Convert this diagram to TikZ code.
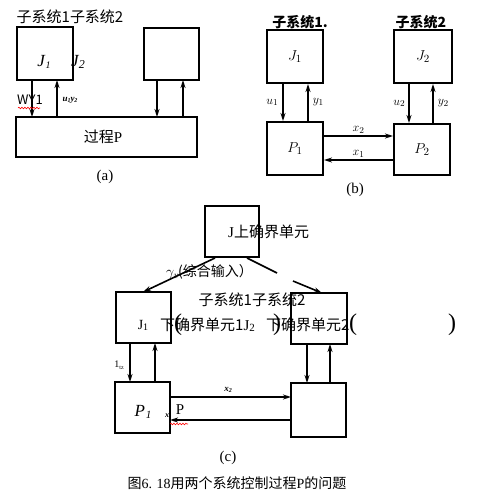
\documentclass[tikz,border=0pt]{standalone}
\usepackage{fontspec}
\setmainfont{Liberation Serif}
\newfontfamily\cjk{Noto Sans CJK SC}
\usetikzlibrary{arrows.meta,decorations.pathmorphing}
\begin{document}
\begin{tikzpicture}[x=1pt,y=-1pt,
  blk/.style={draw,line width=2pt},
  arr/.style={line width=1.6pt,-{Stealth[length=8pt,width=5pt]}},
  lin/.style={line width=1.6pt},
  txt/.style={inner sep=0pt,font=\fontsize{15}{15}\selectfont},
  ctxt/.style={inner sep=0pt,font=\cjk\fontsize{15}{15}\selectfont},
  btxt/.style={inner sep=0pt,font=\cjk\bfseries\fontsize{14}{14}\selectfont},
  lab/.style={inner sep=0pt,font=\fontsize{13}{13}\selectfont},
  paren/.style={inner sep=0pt,font=\fontsize{24}{24}\selectfont},
  wave/.style={red,line width=0.6pt,decorate,decoration={snake,amplitude=0.8pt,segment length=3pt}}
]
\useasboundingbox (0,0) rectangle (483,496);
% ---------- panel (a) ----------
\node[ctxt] (ta) at (70,17) {子系统1子系统2};
\draw[blk] (17,27) rectangle (73,80);
\node[inner sep=0pt,font=\itshape\fontsize{17}{17}\selectfont] (aJ1) at (44,62) {J\kern0.5pt\raisebox{-2pt}{\fontsize{10}{10}\selectfont\itshape 1}};
\node[inner sep=0pt,font=\itshape\fontsize{17}{17}\selectfont] (aJ2) at (78,62) {J\raisebox{-2pt}{\fontsize{12}{12}\selectfont\itshape 2}};
\draw[blk] (144,28) rectangle (199,80);
\draw[blk] (16,117) rectangle (197,157);
\node[inner sep=0pt,font=\fontsize{15}{15}\selectfont] (aP) at (103,137) {{\cjk 过程}P};
\coordinate (aa1) at (32,80); \coordinate (aa2) at (32,117);
\coordinate (ab1) at (57,117); \coordinate (ab2) at (57,80);
\coordinate (ac1) at (157,80); \coordinate (ac2) at (157,117);
\coordinate (ad1) at (183,117); \coordinate (ad2) at (183,80);
\draw[arr] (aa1) -- (aa2);
\draw[arr] (ab1) -- (ab2);
\draw[arr] (ac1) -- (ac2);
\draw[arr] (ad1) -- (ad2);
\node[inner sep=0pt,font=\cjk\fontsize{13}{13}\selectfont] (aWY) at (30,100) {WY1};
\draw[wave] (18,108) -- (40,108);
\node[inner sep=0pt,font=\bfseries\itshape\fontsize{9}{9}\selectfont] (auy) at (70,100) {u\raisebox{-1.5pt}{\fontsize{6}{6}\selectfont 1}y\raisebox{-1.5pt}{\fontsize{6}{6}\selectfont 2}};
\node[txt] (alab) at (105,177) {(a)};
% ---------- panel (b) ----------
\node[btxt] (tb1) at (300,22) {子系统1.};
\node[btxt] (tb2) at (421,22) {子系统2};
\node[blk,minimum width=56pt,minimum height=53pt,inner sep=0pt] (bJ1) at (295,56.5) {\fontsize{15}{15}\selectfont$J_1$};
\node[blk,minimum width=58pt,minimum height=53pt,inner sep=0pt] (bJ2) at (423,56.5) {\fontsize{15}{15}\selectfont$J_2$};
\node[blk,minimum width=56pt,minimum height=53pt,inner sep=0pt] (bP1) at (295,148.5) {\fontsize{15}{15}\selectfont$P_1$};
\node[blk,minimum width=56pt,minimum height=51pt,inner sep=0pt] (bP2) at (422,149.5) {\fontsize{15}{15}\selectfont$P_2$};
\coordinate (bx1) at (283,0); \coordinate (bx2) at (308,0);
\coordinate (bx3) at (409,0); \coordinate (bx4) at (433,0);
\coordinate (by1) at (0,136); \coordinate (by2) at (0,160);
\draw[arr] (bJ1.south -| bx1) -- (bP1.north -| bx1) node[lab,midway,left=4pt] {$u_1$};
\draw[arr] (bP1.north -| bx2) -- (bJ1.south -| bx2) node[lab,midway,right=4pt] {$y_1$};
\draw[arr] (bJ2.south -| bx3) -- (bP2.north -| bx3) node[lab,midway,left=3pt] {$u_2$};
\draw[arr] (bP2.north -| bx4) -- (bJ2.south -| bx4) node[lab,midway,right=4pt] {$y_2$};
\draw[arr] (bP1.east |- by1) -- (bP2.west |- by1) node[lab,midway,above=2pt] {$x_2$};
\draw[arr] (bP2.west |- by2) -- (bP1.east |- by2) node[lab,midway,above=2pt] {$x_1$};
\node[txt] (blab) at (355,190) {(b)};
% ---------- panel (c) ----------
\draw[blk] (205,206) rectangle (259,257);
\node[inner sep=0pt,anchor=west,font=\fontsize{15}{15}\selectfont] (cJ) at (228,232) {J{\cjk 上确界单元}};
\coordinate (cL1) at (215,258); \coordinate (cL2) at (143,292);
\coordinate (cR1) at (247,258); \coordinate (cR2) at (277,273);
\coordinate (cR3) at (293,281); \coordinate (cR4) at (322,293);
\draw[arr] (cL1) -- (cL2);
\draw[lin] (cR1) -- (cR2);
\draw[arr] (cR3) -- (cR4);
\node[inner sep=0pt,anchor=west,font=\fontsize{14}{14}\selectfont] (cgam) at (166,272) {$\gamma_{v}$\kern-1pt{\cjk (综合输入）}};
\draw[blk] (116,292) rectangle (171,343);
\draw[blk] (291,293) rectangle (347,344);
\node[ctxt] (tc) at (252,300) {子系统1子系统2};
\node[inner sep=0pt,font=\fontsize{14}{14}\selectfont] (cJ1) at (143,325) {J\raisebox{-1pt}{\fontsize{10}{10}\selectfont 1}};
\node[inner sep=0pt,anchor=west,font=\fontsize{15}{15}\selectfont] (cd1) at (160,325) {{\cjk 下确界单元1}J\raisebox{-1pt}{\fontsize{11}{11}\selectfont 2}};
\node[ctxt,anchor=west] (cd2) at (266,325) {下确界单元2};
\node[paren] (p1) at (178,325) {(};
\node[paren] (p2) at (277,325) {)};
\node[paren] (p3) at (353,325) {(};
\node[paren] (p4) at (452,325) {)};
\draw[blk] (115,382) rectangle (170,433);
\node[inner sep=0pt,font=\itshape\fontsize{17}{17}\selectfont] (cP1) at (143,412) {P\kern1pt\raisebox{-2pt}{\fontsize{11}{11}\selectfont\itshape 1}};
\draw[blk,line width=2.6pt] (291,383) rectangle (346,437);
\coordinate (c1a) at (130,343); \coordinate (c1b) at (130,382);
\coordinate (c2a) at (155,382); \coordinate (c2b) at (155,343);
\coordinate (c3a) at (307,344); \coordinate (c3b) at (307,383);
\coordinate (c4a) at (330,383); \coordinate (c4b) at (330,344);
\draw[arr] (c1a) -- (c1b);
\draw[arr] (c2a) -- (c2b);
\draw[arr] (c3a) -- (c3b);
\draw[arr] (c4a) -- (c4b);
\node[inner sep=0pt,font=\fontsize{10}{10}\selectfont] (c1tz) at (119,365) {1\raisebox{-2pt}{\fontsize{6}{6}\selectfont tz}};
\coordinate (cx2a) at (170,397); \coordinate (cx2b) at (291,397);
\coordinate (cx1a) at (291,420); \coordinate (cx1b) at (170,420);
\draw[arr] (cx2a) -- (cx2b);
\node[inner sep=0pt,font=\bfseries\itshape\fontsize{9}{9}\selectfont] (cx2) at (228,390) {x\raisebox{-1.5pt}{\fontsize{6}{6}\selectfont 2}};
\draw[arr] (cx1a) -- (cx1b);
\node[inner sep=0pt,font=\bfseries\itshape\fontsize{8}{8}\selectfont] (cx) at (167,416) {x};
\node[inner sep=0pt,font=\fontsize{15}{15}\selectfont] (cPP) at (180,410) {P};
\draw[wave] (170,424) -- (188,424);
\node[txt] (clab) at (228,458) {(c)};
\node[inner sep=0pt,font=\fontsize{14}{14}\selectfont] (cap) at (237,483) {{\cjk 图}6. 18{\cjk 用两个系统控制过程}P{\cjk 的问题}};
\end{tikzpicture}
\end{document}
